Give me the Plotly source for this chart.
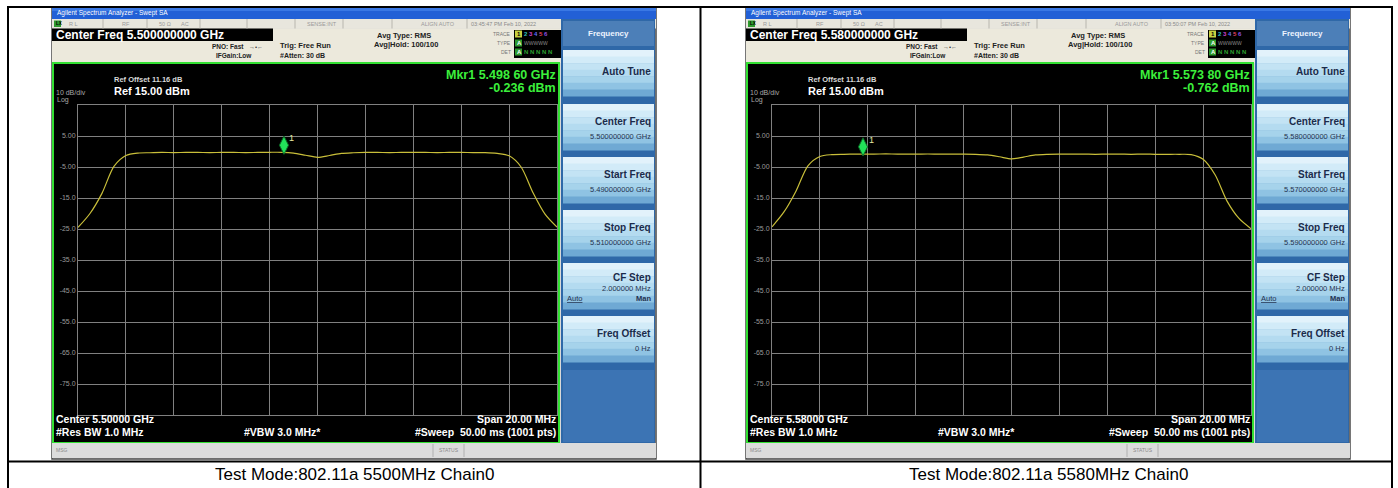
import plotly.graph_objects as go

W, H = 1398, 488
FONT = "Liberation Sans"

# ---------------- data ----------------
offsets_mhz = [-10.0, -9.5, -9.0, -8.5, -8.0, -7.5, -7.0, -6.5, -6.0, -5.5,
               -5.0, -4.5, -4.0, -3.5, -3.0, -2.5, -2.0, -1.5, -1.0, -0.5,
               0.0, 0.5, 1.0, 1.5, 2.0, 2.5, 3.0, 3.5, 4.0, 4.5,
               5.0, 5.5, 6.0, 6.5, 7.0, 7.5, 8.0, 8.5, 9.0, 9.5, 10.0]
left_levels = [-24.5, -20.0, -13.5, -4.8, -1.3, -0.5, -0.4, -0.3, -0.35, -0.3,
               -0.3, -0.35, -0.3, -0.3, -0.35, -0.3, -0.25, -0.25, -0.5, -1.2,
               -1.9, -1.3, -0.6, -0.4, -0.3, -0.3, -0.35, -0.3, -0.3, -0.3,
               -0.35, -0.3, -0.3, -0.35, -0.35, -0.6, -1.4, -5.0, -13.3, -20.2, -24.4]
right_levels = [-24.3, -19.5, -12.8, -4.6, -1.6, -1.0, -0.9, -0.85, -0.85, -0.8,
                -0.8, -0.85, -0.85, -0.8, -0.85, -0.85, -0.85, -0.9, -1.1, -1.7,
                -2.4, -1.8, -1.1, -0.9, -0.85, -0.85, -0.85, -0.9, -0.85, -0.85,
                -0.9, -0.85, -0.9, -0.9, -0.9, -1.0, -2.5, -7.5, -16.0, -21.6, -24.9]
center_ghz = [5.500, 5.580]
marker_ghz = [5.49860, 5.57380]
marker_dbm = [-0.236, -0.762]
y_tick_vals = [5, -5, -15, -25, -35, -45, -55, -65, -75]
y_tick_text = ["5.00", "-5.00", "-15.0", "-25.0", "-35.0", "-45.0", "-55.0", "-65.0", "-75.0"]
captions = ["Test Mode:802.11a 5500MHz Chain0", "Test Mode:802.11a 5580MHz Chain0"]
timestamps = ["03:45:47 PM Feb 10, 2022", "03:50:07 PM Feb 10, 2022"]
levels_by_screen = [left_levels, right_levels]

# ---------------- helpers ----------------
shapes, annotations = [], []


def px(x):
    return x / W


def py(y):
    return 1 - y / H


def rect(x0, y0, x1, y1, fill, line=None, lw=0):
    shapes.append(dict(type="rect", xref="paper", yref="paper", layer="below",
                       x0=px(x0), x1=px(x1), y0=py(y1), y1=py(y0),
                       fillcolor=fill, line=dict(width=lw, color=line or fill)))


def hline(x0, x1, y, color, w=1):
    shapes.append(dict(type="line", xref="paper", yref="paper", layer="above",
                       x0=px(x0), x1=px(x1), y0=py(y), y1=py(y),
                       line=dict(color=color, width=w)))


def vline(x, y0, y1, color, w=1):
    shapes.append(dict(type="line", xref="paper", yref="paper", layer="above",
                       x0=px(x), x1=px(x), y0=py(y0), y1=py(y1),
                       line=dict(color=color, width=w)))


def txt(x, y, s, size=8, color="#ffffff", anchor="left", bold=False, family=FONT):
    annotations.append(dict(xref="paper", yref="paper", x=px(x), y=py(y),
                            text=("<b>%s</b>" % s if bold else s), showarrow=False,
                            xanchor=anchor, yanchor="middle", borderpad=0,
                            font=dict(size=size, color=color, family=family)))


def key(dx, top, bot):
    cols = ["#e2f2fb", "#d2ebf8", "#c3e3f4", "#b4dbf0", "#a6d3eb", "#8fc3e3", "#6fa9d4"]
    n = len(cols)
    hgt = (bot - top) / n
    for k, c in enumerate(cols):
        rect(dx + 563, top + k * hgt, dx + 654, top + (k + 1) * hgt + 0.5, c)


def draw_screen(i):
    dx = 0 if i == 0 else 694
    c = center_ghz[i]
    L, R = dx + 52, dx + 656
    # outer frame
    rect(L, 8, R, 459, "#d9d9d9", "#4a4a4a", 1.5)
    # title bar
    rect(L, 8, R, 19, "#2260d6")
    rect(L, 8, R, 11, "#3a78e4")
    txt(L + 4, 13.5, "Agilent Spectrum Analyzer - Swept SA", 6.5, "#ffffff")
    # status row
    rect(L, 19, R, 28.5, "#e8e6dd")
    rect(L + 2, 20.5, L + 9, 27, "#2e9a2e")
    txt(L + 2.5, 23.8, "LX", 4.5, "#000000", bold=True)
    for sx in [103, 147, 200, 247, 295, 343, 392, 467]:
        vline(dx + sx, 19, 28.5, "#b8b6ae", 1)
    status = [(68, "R L"), (121, "RF"), (158, "50 Ω"), (180, "AC"),
              (306, "SENSE:INT"), (420, "ALIGN AUTO")]
    for sx, s in status:
        txt(dx + sx, 24, s, 5.5, "#9a9a9a")
    txt(dx + 470, 24, timestamps[i], 5.5, "#8a8a8a")
    # info area
    rect(L, 28.5, dx + 562, 63, "#ece9dc")
    rect(L, 28.5, dx + 273, 41, "#000000")
    txt(L + 3, 35, "Center Freq %.9f GHz" % c, 12, "#ffffff", bold=True)
    txt(dx + 245, 46.5, "PNO: Fast", 6.5, "#222222", "right", bold=True)
    txt(dx + 248, 46.5, "→•←", 6, "#333333")
    txt(dx + 253, 55.5, "IFGain:Low", 6.5, "#222222", "right", bold=True)
    txt(dx + 279, 45.5, "Trig: Free Run", 7.5, "#222222", bold=True)
    txt(dx + 279, 55, "#Atten: 30 dB", 7, "#222222", bold=True)
    txt(dx + 376, 35.5, "Avg Type: RMS", 7.5, "#222222", bold=True)
    txt(dx + 373, 45, "Avg|Hold: 100/100", 7.5, "#222222", bold=True)
    # trace box
    rect(dx + 514, 30, dx + 562, 58, "#000000")
    txt(dx + 512, 34, "TRACE", 5, "#777777", "right")
    txt(dx + 512, 43, "TYPE", 5, "#777777", "right")
    txt(dx + 512, 52, "DET", 5, "#777777", "right")
    rect(dx + 515, 30.5, dx + 522, 37.5, "#c8d040")
    txt(dx + 515.5, 34, "1", 6, "#000000", bold=True)
    txt(dx + 523, 34, "<span style='color:#30c0c0'>2</span> <span style='color:#d040d0'>3</span> "
        "<span style='color:#6070ff'>4</span> <span style='color:#e04060'>5</span> "
        "<span style='color:#9050e0'>6</span>", 6, "#ffffff", bold=True)
    rect(dx + 515, 39.5, dx + 522, 46.5, "#2e9a2e")
    txt(dx + 515.5, 43, "A", 6, "#ffffff", bold=True)
    txt(dx + 523, 43, "WWWWW", 5, "#8a8a8a")
    rect(dx + 515, 48.5, dx + 522, 55.5, "#2e9a2e")
    txt(dx + 515.5, 52, "A", 6, "#ffffff", bold=True)
    txt(dx + 523, 52, "N N N N N", 6, "#2ea02e", bold=True)
    # display frame
    rect(dx + 53, 63, dx + 559, 443, "#000000", "#33e033", 2)
    txt(dx + 113, 80, "Ref Offset 11.16 dB", 7.5, "#d8d8d8", bold=True)
    txt(dx + 113, 91, "Ref 15.00 dBm", 11, "#ffffff", bold=True)
    txt(dx + 55, 92, "10 dB/div", 7, "#a8a8a8")
    txt(dx + 56, 99.5, "Log", 7, "#a8a8a8")
    ms = "%.5f" % marker_ghz[i]
    txt(dx + 557, 75, "Mkr1 %s %s GHz" % (ms[:5], ms[5:]), 12.5, "#3cf03c", "right", bold=True)
    txt(dx + 557, 87.5, "%.3f dBm" % marker_dbm[i], 12.5, "#3cf03c", "right", bold=True)
    txt(dx + 55, 418.5, "Center %.5f GHz" % c, 10.5, "#ffffff", bold=True)
    txt(dx + 55, 431.5, "#Res BW 1.0 MHz", 10.5, "#ffffff", bold=True)
    txt(dx + 243, 431.5, "#VBW 3.0 MHz*", 10.5, "#ffffff", bold=True)
    txt(dx + 557, 418.5, "Span 20.00 MHz", 10.5, "#ffffff", "right", bold=True)
    txt(dx + 557, 431.5, "#Sweep  50.00 ms (1001 pts)", 10.5, "#ffffff", "right", bold=True)
    # soft key panel
    rect(dx + 561, 19, dx + 655, 443, "#2f68a8")
    rect(dx + 563, 21, dx + 654, 46, "#4c7fb8")
    txt(dx + 608, 33.5, "Frequency", 8, "#eef4ff", "center", bold=True)
    key(dx, 50, 96)
    txt(dx + 652, 72, "Auto Tune", 10, "#1b2b4b", "right", bold=True)
    tops = [104, 157, 210, 263, 316]
    key(dx, tops[0], tops[0] + 46)
    txt(dx + 652, tops[0] + 17, "Center Freq", 10, "#1b2b4b", "right", bold=True)
    txt(dx + 652, tops[0] + 32, "%.9f GHz" % c, 7.5, "#25324f", "right")
    key(dx, tops[1], tops[1] + 46)
    txt(dx + 652, tops[1] + 17, "Start Freq", 10, "#1b2b4b", "right", bold=True)
    txt(dx + 652, tops[1] + 32, "%.9f GHz" % (c - 0.01), 7.5, "#25324f", "right")
    key(dx, tops[2], tops[2] + 46)
    txt(dx + 652, tops[2] + 17, "Stop Freq", 10, "#1b2b4b", "right", bold=True)
    txt(dx + 652, tops[2] + 32, "%.9f GHz" % (c + 0.01), 7.5, "#25324f", "right")
    key(dx, tops[3], tops[3] + 46)
    txt(dx + 652, tops[3] + 14, "CF Step", 10, "#1b2b4b", "right", bold=True)
    txt(dx + 652, tops[3] + 25, "2.000000 MHz", 7.5, "#25324f", "right")
    txt(dx + 566, tops[3] + 35, "<u>Auto</u>", 7.5, "#25324f")
    txt(dx + 652, tops[3] + 35, "Man", 7.5, "#25324f", "right", bold=True)
    key(dx, tops[4], tops[4] + 46)
    txt(dx + 652, tops[4] + 17, "Freq Offset", 10, "#1b2b4b", "right", bold=True)
    txt(dx + 652, tops[4] + 32, "0 Hz", 7.5, "#25324f", "right")
    rect(dx + 563, 370, dx + 654, 442, "#3c74b4")
    # message bar
    rect(L, 443, R, 458, "#dcdcdc")
    txt(L + 3, 450, "MSG", 5, "#8a8a8a")
    vline(dx + 433, 444, 457, "#b0b0b0", 1)
    vline(dx + 464, 444, 457, "#b0b0b0", 1)
    txt(dx + 448.5, 450, "STATUS", 5, "#8a8a8a", "center")
    # caption
    txt(dx + 354, 474.5, captions[i], 17, "#000000", "center")


for i in range(2):
    draw_screen(i)

# table lines
hline(7, 1393, 7, "#000000", 2)
hline(7, 1393, 461.5, "#000000", 2)
vline(8, 6, 488, "#000000", 2)
vline(700.5, 6, 488, "#000000", 2)
vline(1392, 6, 488, "#000000", 2)

# ---------------- figure ----------------
fig = go.Figure()
for i in range(2):
    sfx = "" if i == 0 else "2"
    freqs = [center_ghz[i] + o / 1000.0 for o in offsets_mhz]
    fig.add_trace(go.Scatter(x=freqs, y=levels_by_screen[i], mode="lines",
                             line=dict(color="#c9bf3a", width=1.2, shape="spline", smoothing=0.8),
                             xaxis="x" + sfx, yaxis="y" + sfx, hoverinfo="skip"))
    fig.add_trace(go.Scatter(x=[marker_ghz[i]], y=[marker_dbm[i]], mode="markers",
                             marker=dict(symbol="diamond-tall", size=13, color="#22e05a",
                                         line=dict(color="#0b6a25", width=1),
                                         angle=180, standoff=7),
                             xaxis="x" + sfx, yaxis="y" + sfx, hoverinfo="skip"))
    annotations.append(dict(xref="x" + sfx, yref="y" + sfx, x=marker_ghz[i], y=marker_dbm[i],
                            text="1", showarrow=False, xshift=8, yshift=14,
                            font=dict(size=9, color="#e6e6a0", family=FONT)))

grid_col = "#808080"
common_x = dict(showgrid=True, gridcolor=grid_col, gridwidth=1, zeroline=False,
                showline=True, linecolor=grid_col, linewidth=1, mirror=True,
                showticklabels=False, ticks="", dtick=0.002)
common_y = dict(showgrid=True, gridcolor=grid_col, gridwidth=1, zeroline=False,
                showline=True, linecolor=grid_col, linewidth=1, mirror=True,
                range=[-85, 15], tickmode="array", tickvals=y_tick_vals, ticktext=y_tick_text,
                ticks="", tickfont=dict(size=7, color="#9a9a9a", family=FONT))

fig.update_layout(
    width=W, height=H, margin=dict(l=0, r=0, t=0, b=0),
    paper_bgcolor="#ffffff", plot_bgcolor="#000000", showlegend=False,
    template="none",
    xaxis=dict(domain=[px(78), px(557)], range=[center_ghz[0] - 0.01, center_ghz[0] + 0.01],
               tick0=center_ghz[0], anchor="y", **common_x),
    yaxis=dict(domain=[py(415), py(105)], anchor="x", **common_y),
    xaxis2=dict(domain=[px(772), px(1251)], range=[center_ghz[1] - 0.01, center_ghz[1] + 0.01],
                tick0=center_ghz[1], anchor="y2", **common_x),
    yaxis2=dict(domain=[py(415), py(105)], anchor="x2", **common_y),
    shapes=shapes, annotations=annotations,
)

fig.write_html("out.html", config={"displayModeBar": False},
               post_script="document.body.style.margin='0px';")
